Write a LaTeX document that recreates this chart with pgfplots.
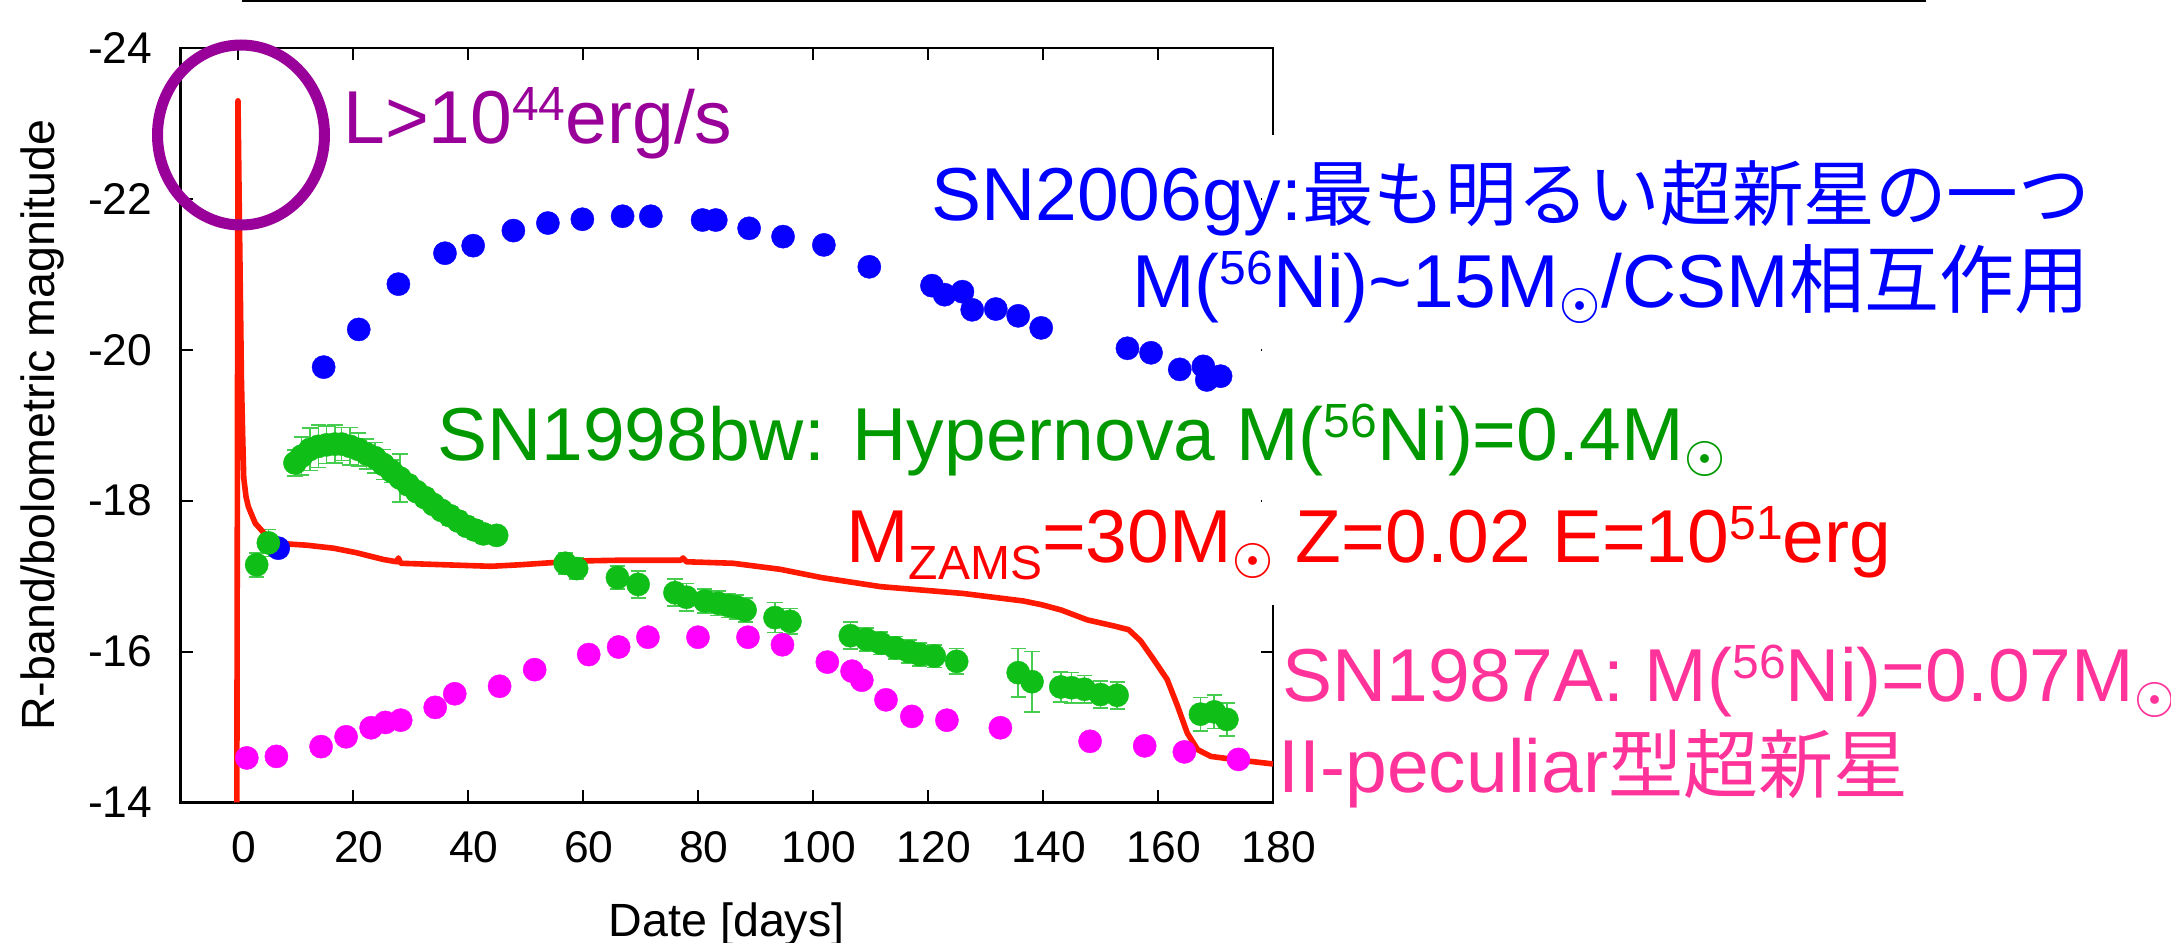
\documentclass[border=0pt]{standalone}
\usepackage{pgfplots}
\pgfplotsset{compat=1.18}
\usepackage{fontspec}
\setmainfont{Liberation Sans}
\newfontfamily\cjk{Noto Sans CJK JP}
\newfontfamily\dejavu{DejaVu Sans}
\definecolor{purplec}{RGB}{153,0,153}
\definecolor{bluetext}{RGB}{0,0,255}
\definecolor{greentext}{RGB}{0,153,0}
\definecolor{redtext}{RGB}{255,0,0}
\definecolor{pinktext}{RGB}{255,51,153}
\definecolor{bluedot}{RGB}{8,0,255}
\definecolor{greendot}{RGB}{16,190,24}
\definecolor{errgreen}{RGB}{70,205,80}
\definecolor{pinkdot}{RGB}{255,0,255}
\definecolor{redline}{RGB}{255,25,0}
\newcommand\sun{\raisebox{-4pt}{\fontsize{12pt}{12pt}\selectfont\dejavu ☉}}
\newcommand\sups[1]{\raisebox{5.6pt}{\fontsize{12pt}{12pt}\selectfont #1}}
\newcommand\subs[1]{\raisebox{-4.25pt}{\fontsize{12pt}{12pt}\selectfont #1}}
\begin{document}
\begin{tikzpicture}
\path[use as bounding box] (0,0) rectangle (542.75pt,-235.5pt);
\begin{axis}[
  at={(45.125pt,-200.6pt)}, anchor=south west,
  scale only axis, width=273.1pt, height=188.6pt,
  xmin=-10, xmax=180, ymin=-24, ymax=-14, y dir=reverse,
  xtick={0,20,40,60,80,100,120,140,160,180},
  xticklabels={0,20,40,60,80,100,120,140,160,180},
  ytick={-24,-22,-20,-18,-16,-14},
  yticklabels={-24,-22,-20,-18,-16,-14},
  tick align=inside, major tick length=3pt,
  tick style={black, line width=0.5pt},
  axis line style={black, line width=0.55pt},
  ticklabel style={font=\fontsize{11.1pt}{13pt}\selectfont},
  xticklabel style={yshift=-3.75pt, xshift=1.5pt},
  yticklabel style={xshift=-3.5pt},
  xlabel={Date [days]}, ylabel={R-band/bolometric magnitude},
  label style={font=\fontsize{11.65pt}{14pt}\selectfont},
  xlabel style={at={(axis description cs:0.5,-0.1783)}, anchor=base, inner sep=0pt},
  ylabel style={at={(axis description cs:-0.1158,0.5)}, rotate=0, anchor=base, inner sep=0pt},
  clip=false,
]
% SN2006gy
\addplot[only marks, mark=*, mark size=2.9pt, mark options={fill=bluedot, draw=bluedot, line width=0.1pt}]
coordinates {
(7.0,-17.37) (14.9,-19.77) (21.0,-20.27) (27.9,-20.87) (36.0,-21.28) (40.9,-21.38)
(47.9,-21.58) (53.9,-21.68) (59.9,-21.73) (66.9,-21.77) (71.8,-21.77) (80.8,-21.72)
(83.1,-21.72) (88.9,-21.61) (94.8,-21.50) (101.9,-21.39) (109.8,-21.10) (120.7,-20.85)
(122.9,-20.73) (126.0,-20.77) (127.7,-20.53) (131.8,-20.54) (135.7,-20.45) (139.7,-20.29)
(154.7,-20.02) (158.8,-19.96) (163.8,-19.74) (167.9,-19.78) (168.5,-19.60) (170.9,-19.65)
};
% SN1987A
\addplot[only marks, mark=*, mark size=2.9pt, mark options={fill=pinkdot, draw=pinkdot, line width=0.1pt}]
coordinates {
(1.53,-14.59) (6.68,-14.61) (14.45,-14.74) (18.8,-14.87) (23.15,-14.99) (25.63,-15.06)
(28.3,-15.09) (34.3,-15.26) (37.7,-15.44) (45.5,-15.54) (51.6,-15.76) (61.0,-15.96)
(66.2,-16.06) (71.3,-16.19) (80.0,-16.19) (88.7,-16.19) (94.7,-16.09) (102.5,-15.86)
(106.8,-15.74) (108.5,-15.62) (112.7,-15.36) (117.2,-15.14) (123.3,-15.09) (132.6,-14.99)
(148.2,-14.81) (157.7,-14.75) (164.6,-14.67) (174.0,-14.57)
};
% SN1998bw
\addplot[only marks, mark=*, mark size=2.9pt, color=greendot,
  mark options={fill=greendot, draw=greendot, line width=0.1pt},
  error bars/.cd, y dir=both, y explicit,
  error bar style={draw=errgreen, line width=0.4pt},
  error mark options={rotate=90, draw=errgreen, mark size=1.9pt, line width=0.4pt}]
table[x=x, y=y, y error=e] {
x y e
3.25 -17.15 0.16
5.28 -17.44 0.18
9.91 -18.50 0.17
11.07 -18.59 0.25
12.52 -18.68 0.28
13.97 -18.72 0.28
15.42 -18.74 0.25
16.87 -18.75 0.25
18.03 -18.75 0.22
19.48 -18.72 0.25
20.93 -18.68 0.22
22.38 -18.62 0.20
23.83 -18.57 0.20
25.28 -18.48 0.20
26.72 -18.39 0.15
28.17 -18.30 0.32
29.62 -18.21 0.12
31.07 -18.12 0.12
32.52 -18.04 0.12
33.97 -17.95 0.12
35.42 -17.87 0.12
36.87 -17.80 0.12
38.32 -17.73 0.12
39.77 -17.66 0.12
41.22 -17.61 0.12
42.67 -17.56 0.12
44.99 -17.54 0.12
56.9 -17.17 0.14
58.9 -17.10 0.14
66.0 -16.98 0.15
69.6 -16.89 0.18
76.0 -16.78 0.18
78.0 -16.72 0.18
81.2 -16.67 0.16
83.5 -16.64 0.16
85.3 -16.61 0.16
86.7 -16.59 0.16
88.2 -16.55 0.16
93.4 -16.45 0.20
96.0 -16.40 0.17
106.5 -16.21 0.18
109.3 -16.16 0.15
111.8 -16.11 0.15
114.3 -16.05 0.15
116.7 -16.00 0.15
118.6 -15.96 0.15
121.1 -15.94 0.15
125.0 -15.87 0.17
135.7 -15.72 0.32
138.1 -15.60 0.40
143.1 -15.53 0.20
145.0 -15.52 0.20
147.2 -15.50 0.18
150.0 -15.43 0.18
152.9 -15.42 0.18
167.4 -15.17 0.22
169.8 -15.20 0.22
172.0 -15.10 0.22
};
% model
\addplot[redline, line width=1.4pt, line join=round] coordinates {
(-0.2,-14) (0,-23.3) (0.2,-22.0) (0.4,-20.8) (0.6,-19.6) (0.8,-18.9) (1.0,-18.3)
(1.4,-18.05) (1.8,-17.92) (3.0,-17.70) (5.0,-17.53) (7.8,-17.43) (11.9,-17.41)
(16.6,-17.37) (20.6,-17.31) (25.3,-17.22) (27.6,-17.19) (27.9,-17.24) (28.3,-17.17)
(36,-17.15) (44,-17.13) (49,-17.15) (58.9,-17.20) (66,-17.21) (72.2,-17.21)
(77.0,-17.21) (77.4,-17.24) (78,-17.19) (86.1,-17.17) (94.3,-17.09) (101.5,-16.98)
(111.8,-16.86) (126.1,-16.77) (136.6,-16.67) (139.8,-16.62) (143.2,-16.55)
(147.7,-16.42) (152.3,-16.34) (154.9,-16.29) (157,-16.14) (159.3,-15.89)
(161.6,-15.63) (163.4,-15.28) (165.1,-14.92) (166.9,-14.70) (169.2,-14.61)
(173.2,-14.57) (180,-14.51)
};
\end{axis}
\begin{scope}[x=0.25pt,y=-0.25pt]
\fill[white] (1262,135) rectangle (1286,605);
\draw[black, line width=0.6pt] (242,1.2) -- (1926,1.2);
\draw[purplec, line width=2.75pt] (241,135) ellipse [x radius=20.875pt, y radius=22.5pt];
\begin{scope}[every node/.style={anchor=base west, inner sep=0pt, font=\fontsize{18.75pt}{22pt}\selectfont}]
\node[text=purplec] at (342.5,143) {L>10\sups{44}erg/s};
\node[text=bluetext] at (930.5,220) {SN2006gy:{\cjk\fontsize{17.9pt}{22pt}\selectfont 最も明るい超新星の一つ}};
\node[text=bluetext] at (1131.5,307) {M(\sups{56}Ni)\textasciitilde 15M\sun/CSM{\cjk 相互作用}};
\node[text=greentext] at (436.5,460) {SN1998bw: Hypernova M(\sups{56}Ni)=0.4M\sun};
\node[text=redtext] at (845.5,562) {M\subs{ZAMS}=30M\sun{} Z=0.02 E=10\sups{51}erg};
\node[text=pinktext] at (1281.5,701) {SN1987A: M(\sups{56}Ni)=0.07M\sun};
\node[text=pinktext] at (1278,792) {II-peculiar{\cjk 型超新星}};
\end{scope}
\end{scope}
\end{tikzpicture}
\end{document}
